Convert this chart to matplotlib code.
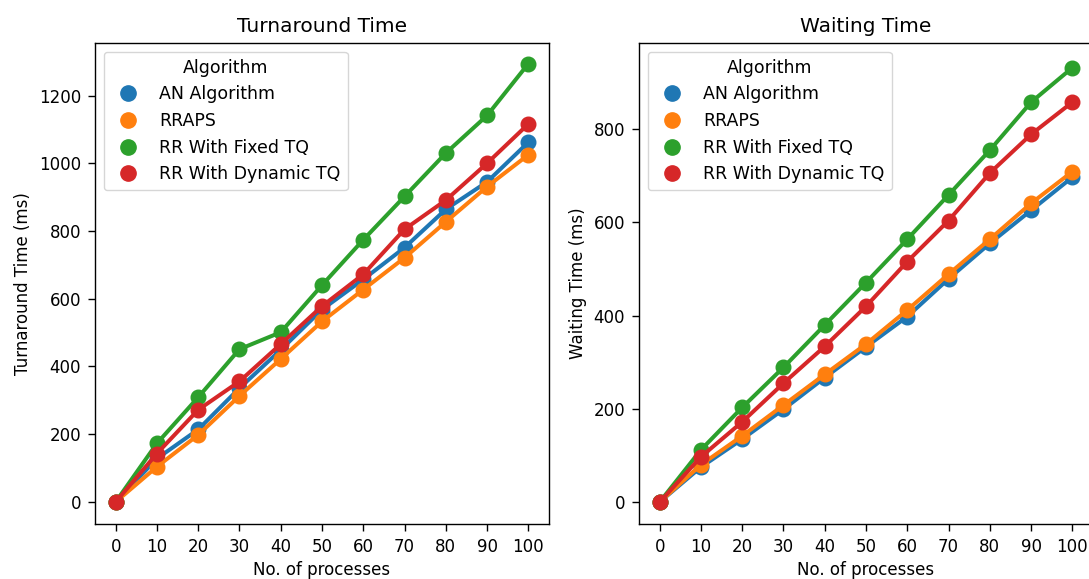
import matplotlib
matplotlib.use("Agg")
from matplotlib import pyplot as plt
from matplotlib.lines import Line2D

processes = [0, 10, 20, 30, 40, 50, 60, 70, 80, 90, 100]
algorithms = ["AN Algorithm", "RRAPS", "RR With Fixed TQ", "RR With Dynamic TQ"]
colors = ["#1f77b4", "#ff7f0e", "#2ca02c", "#d62728"]

# turnaround time (ms)
tat_an = [0, 128, 214, 336, 449, 568, 657, 751, 864, 945, 1062]
tat_rraps = [0, 104, 198, 313, 422, 533, 627, 721, 827, 931, 1025]
tat_fixed = [0, 173, 309, 451, 501, 640, 774, 902, 1030, 1141, 1294]
tat_dynamic = [0, 143, 272, 356, 466, 578, 672, 805, 891, 1000, 1116]

# waiting time (ms)
wt_an = [0, 75, 135, 199, 267, 333, 398, 479, 555, 626, 697]
wt_rraps = [0, 80, 142, 208, 274, 339, 412, 489, 564, 641, 709]
wt_fixed = [0, 112, 203, 289, 380, 471, 564, 659, 755, 858, 932]
wt_dynamic = [0, 97, 172, 255, 334, 420, 516, 604, 706, 789, 858]

fig = plt.figure(figsize=(10.89, 5.79), dpi=100)
ax1 = fig.add_axes([95 / 1089, 1 - 524 / 579, 454 / 1089, 481 / 579])
ax2 = fig.add_axes([639 / 1089, 1 - 524 / 579, 454 / 1089, 481 / 579])


def draw(ax, series, title, ylabel, yticks):
    pos = range(len(processes))
    for vals, c in zip(series, colors):
        ax.plot(pos, vals, color=c, lw=2.9, marker="o", ms=10.5, zorder=3)
    ax.set_xticks(list(pos))
    ax.set_xticklabels([str(p) for p in processes])
    ax.set_xlim(-0.5, 10.5)
    ax.set_yticks(yticks)
    ax.set_title(title, fontsize=14.5, pad=8)
    ax.set_xlabel("No. of processes", fontsize=12, labelpad=4)
    ax.set_ylabel(ylabel, fontsize=12, labelpad=5)
    ax.tick_params(labelsize=12, length=5, pad=5, width=1)
    for s in ax.spines.values():
        s.set_linewidth(1)
    handles = [Line2D([], [], ls="", marker="o", ms=11, color=c) for c in colors]
    ax.legend(handles, algorithms, title="Algorithm", loc="upper left",
              fontsize=12.5, title_fontsize=12.5)


draw(ax1, [tat_an, tat_rraps, tat_fixed, tat_dynamic], "Turnaround Time",
     "Turnaround Time (ms)", [0, 200, 400, 600, 800, 1000, 1200])
ax1.set_ylim(-65, 1355)
draw(ax2, [wt_an, wt_rraps, wt_fixed, wt_dynamic], "Waiting Time",
     "Waiting Time (ms)", [0, 200, 400, 600, 800])
ax2.set_ylim(-47, 985)

fig.savefig("out.png", dpi=100)
